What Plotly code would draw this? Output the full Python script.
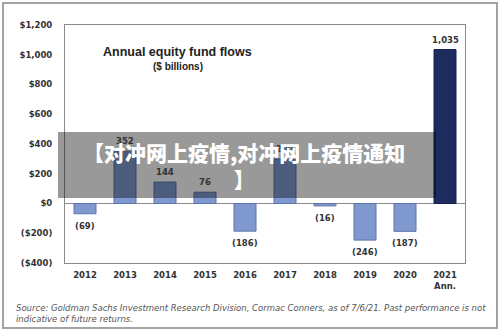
import plotly.graph_objects as go

categories = ["2012", "2013", "2014", "2015", "2016", "2017", "2018", "2019", "2020", "2021<br>Ann."]
flows = [-69, 352, 144, 76, -186, 299, -16, -246, -187, 1035]
ytick_vals = [1200, 1000, 800, 600, 400, 200, 0, -200, -400]
ytick_text = ["$1,200", "$1,000", "$800", "$600", "$400", "$200", "$0", "($200)", "($400)"]

W, H = 500, 331
L, R, T, B = 65, 35, 25, 68
PW, PH = W - L - R, H - T - B


def px(x):
    return (x - L) / PW


def py(y):
    return (H - B - y) / PH


light = "#7f99cf"
navy = "#1c2c5e"
colors = [navy if c.startswith("2021") else light for c in categories]
lines = ["#14214a" if c.startswith("2021") else "#5d74a8" for c in categories]

fig = go.Figure()
fig.add_trace(go.Bar(
    x=list(range(len(categories))), y=flows, width=0.55,
    marker=dict(color=colors, line=dict(color=lines, width=1)),
    hoverinfo="skip",
))

tickfont = dict(family="DejaVu Sans", size=8.5, color="#333333", weight="bold")


def fmt(v):
    s = f"{abs(v):,}"
    return s if v >= 0 else f"({s})"


annotations = []
for i, v in enumerate(flows):
    annotations.append(dict(
        x=i, y=v, xref="x", yref="y", text=fmt(v), showarrow=False,
        yanchor="middle", yshift=10 if v >= 0 else -12,
        font=tickfont,
    ))

annotations += [
    dict(x=px(177), y=py(52), xref="paper", yref="paper", showarrow=False,
         text="Annual equity fund flows", xanchor="center", yanchor="middle",
         font=dict(family="Liberation Sans", size=12.5, color="#222222", weight="bold")),
    dict(x=px(178), y=py(66), xref="paper", yref="paper", showarrow=False,
         text="($ billions)", xanchor="center", yanchor="middle",
         font=dict(family="Liberation Sans", size=10, color="#222222", weight="bold")),
    dict(x=px(14), y=py(301), xref="paper", yref="paper", showarrow=False,
         text="Source: Goldman Sachs Investment Research Division, Cormac Conners, as of 7/6/21. Past performance is not<br>indicative of future returns.",
         xanchor="left", yanchor="top", align="left",
         font=dict(family="DejaVu Sans", size=8.5, color="#555555", style="italic")),
    dict(x=px(244), y=py(165), xref="paper", yref="paper", showarrow=False,
         text="【对冲网上疫情,对冲网上疫情通知<br>】", xanchor="center", yanchor="middle",
         align="center",
         font=dict(family="Noto Sans CJK SC", size=21, color="#ffffff", weight=900)),
]

shapes = [
    dict(type="rect", xref="paper", yref="paper", x0=px(3), x1=px(497), y0=py(3), y1=py(328),
         line=dict(color="#a3a3a3", width=2), fillcolor="rgba(0,0,0,0)", layer="below"),
    dict(type="rect", xref="paper", yref="paper", x0=px(58), x1=px(436), y0=py(132), y1=py(198),
         line=dict(width=0), fillcolor="rgba(0,0,0,0.4)", layer="above"),
]

fig.update_layout(
    width=W, height=H,
    margin=dict(l=L, r=R, t=T, b=B, pad=0),
    paper_bgcolor="white", plot_bgcolor="white",
    showlegend=False,
    annotations=annotations,
    shapes=shapes,
    xaxis=dict(range=[-0.5, 9.5], tickvals=list(range(len(categories))), ticktext=categories,
               showgrid=False, showline=True, mirror=True,
               linecolor="#8a8a8a", linewidth=1, ticks="", tickfont=tickfont,
               ticklabelstandoff=4, fixedrange=True),
    yaxis=dict(range=[-400, 1200], tickvals=ytick_vals, ticktext=ytick_text,
               showgrid=False, showline=True, mirror=True, linecolor="#8a8a8a",
               linewidth=1, zeroline=True, zerolinecolor="#8a8a8a", zerolinewidth=1,
               ticks="", tickfont=tickfont, ticklabelstandoff=10, fixedrange=True),
)

fig.write_html("out.html")
